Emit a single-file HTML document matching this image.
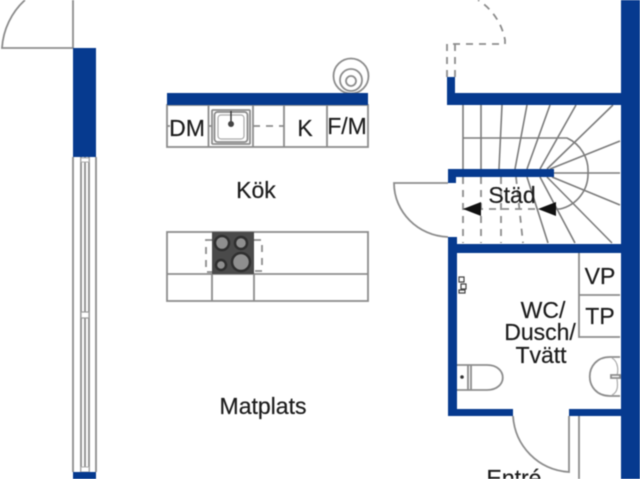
<!DOCTYPE html>
<html>
<head>
<meta charset="utf-8">
<style>
html,body{margin:0;padding:0;background:#fff;width:640px;height:479px;overflow:hidden}
svg{display:block;filter:blur(.55px)}
text{font-family:"Liberation Sans",sans-serif;font-size:23px;fill:#1c1c1c;text-anchor:middle;stroke:#1c1c1c;stroke-width:.2}
.l{fill:none;stroke:#8c8c8c;stroke-width:1.8}
.d{fill:none;stroke:#8c8c8c;stroke-width:1.8;stroke-dasharray:7 6}
.t{fill:none;stroke:#7c7c7c;stroke-width:1.6}
</style>
</head>
<body>
<svg width="640" height="479" viewBox="0 0 640 479" xmlns="http://www.w3.org/2000/svg">
<rect width="640" height="479" fill="#fff"/>

<!-- top-left door -->
<path class="l" d="M73 0V48H2A71 71 0 0 1 25 0"/>

<!-- left window -->
<path class="l" d="M73 157V472M96 157V472M81 157V472M85 157V472M89 157V472"/>
<rect x="81" y="312" width="8" height="6" fill="#fff" stroke="#999" stroke-width="1.2"/>
<rect x="81" y="158" width="8" height="4" fill="#fff" stroke="#aaa" stroke-width="1"/>
<rect x="81" y="467" width="8" height="5" fill="#fff" stroke="#aaa" stroke-width="1"/>

<!-- stove hood circles -->
<circle cx="351" cy="76" r="17.500" class="l"/>
<circle cx="351" cy="80" r="11" class="l"/>
<circle cx="351" cy="81" r="5" class="l"/>

<!-- kitchen counter -->
<rect x="167" y="105" width="201" height="42" fill="#fff" class="l"/>
<path class="l" d="M208.500 105V147M253 105V147M284 105V147M327 105V147"/>
<path class="d" d="M253 126H284"/>
<path class="l" d="M167 126H170M208 126H212"/>
<rect x="212" y="110" width="38" height="34" rx="1" fill="#fff" class="l"/>
<rect x="214.500" y="112" width="33" height="30" rx="3" fill="none" class="l"/>
<rect x="218" y="115" width="26" height="24" rx="3" fill="none" stroke="#aaa" stroke-width="1.200"/>
<path d="M231 111V124" stroke="#333" stroke-width="1.400"/>
<circle cx="231" cy="124" r="3" fill="#444"/>

<!-- island -->
<rect x="167" y="232" width="201" height="69" fill="#fff" class="l"/>
<path class="l" d="M167 274H368M212 274V301M254 274V301"/>
<path class="d" d="M212 240H206V272H212M254 240H262V271H254"/>
<rect x="212" y="232" width="42" height="42" fill="#4a4a4a"/>
<g fill="#8f8f8f" stroke="#2f2f2f" stroke-width="2.500">
<circle cx="222" cy="243" r="7"/>
<circle cx="241" cy="243" r="6"/>
<circle cx="221" cy="265" r="5"/>
<circle cx="241" cy="262" r="9"/>
</g>

<!-- dashed upper door -->
<path class="d" d="M447 77V44H505L505 40A60 60 0 0 0 478 0M455 77V44"/>

<!-- stairs upper -->
<path class="t" d="M463 105V169M481 105V169M502 105L499 169M527 105L515 169M550 105L527 169M576 105L540 169M613 105L547 169M620 141L550 169M620 173H554M620 205L552 177M612 243L547 177M575 243L540 177M548 243L527 177"/>
<path class="t" d="M463 138H567A36 36 0 0 1 588 173A36 36 0 0 1 560 209H555"/>
<path class="d" d="M463 177V243M481 177V243M501 177V243M516 177L523 243M463 209H540"/>
<polygon points="463,209 481,202 481,216" fill="#111"/>
<polygon points="538,209 556,202 556,216" fill="#111"/>

<!-- Städ door -->
<path class="l" d="M448 183H394C394 212 418 236 448 237"/>

<!-- bath fixtures -->
<path class="l" d="M579 253V337H620M579 295H620"/>
<path class="l" d="M457 365H487C508 365 508 390 487 390H457M471 365V390M468 365V390"/>
<circle cx="462" cy="377" r="1.800" fill="#333"/>
<path class="l" d="M620 357H610C583 357 583 396 610 396H620"/>
<path d="M612 358C619 362 618 372 617 375M617 379C618 386 618 392 612 395" fill="none" stroke="#aaa" stroke-width="1.200"/>
<path class="l" d="M611 375H620V378H611Z"/>
<path d="M459 277h5v5h-5zM461 284h5v5h-5zM459 290h6v3h-6z" fill="none" stroke="#444" stroke-width="1.200"/>

<!-- entry door -->
<path class="l" d="M513 416C515 446 538 470 569 472V416M579 416V479"/>

<!-- walls -->
<g fill="#063a8f">
<rect x="73" y="48" width="23" height="109"/>
<rect x="73" y="472" width="23" height="7"/>
<rect x="167" y="93" width="201" height="12"/>
<rect x="621" y="0" width="19" height="479"/>
<rect x="447" y="93" width="174" height="12"/>
<rect x="447" y="77" width="8" height="28"/>
<rect x="448" y="169" width="106" height="8"/>
<rect x="448" y="169" width="8" height="14"/>
<rect x="448" y="237" width="9" height="179"/>
<rect x="448" y="244" width="173" height="9"/>
<rect x="448" y="409" width="65" height="7"/>
<rect x="569" y="409" width="52" height="7"/>
</g>

<!-- labels -->
<text x="187" y="136">DM</text>
<text x="305" y="136">K</text>
<text x="347" y="134">F/M</text>
<text x="256" y="198">Kök</text>
<text x="263" y="414">Matplats</text>
<text x="512" y="203">Städ</text>
<text x="600" y="284">VP</text>
<text x="600" y="324">TP</text>
<text x="543" y="318">WC/</text>
<text x="540" y="340">Dusch/</text>
<text x="541" y="363">Tvätt</text>
<text x="514" y="486">Entré</text>
</svg>
</body>
</html>
